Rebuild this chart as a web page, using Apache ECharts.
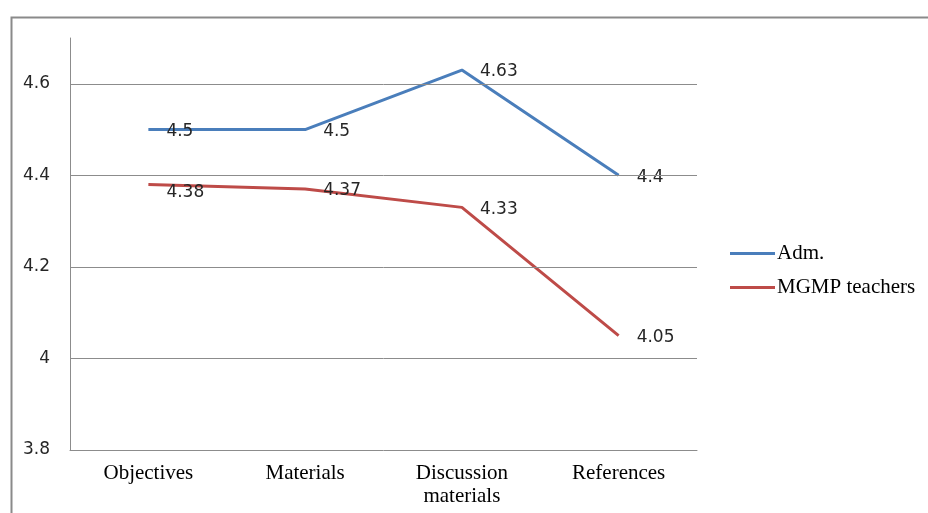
<!DOCTYPE html>
<html>
<head>
<meta charset="utf-8">
<script src="https://cdn.jsdelivr.net/npm/echarts@6/dist/echarts.min.js"></script>
<style>
  html, body { margin: 0; padding: 0; background: #fff; }
  #chart { width: 928px; height: 513px; }
</style>
</head>
<body>
<div id="chart"></div>
<script>
// Aspects of the lesson plan that were rated
const categories = ['Objectives', 'Materials', 'Discussion\nmaterials', 'References'];
// Mean scores per group
const admScores = [4.5, 4.5, 4.63, 4.4];
const teacherScores = [4.38, 4.37, 4.33, 4.05];
const seriesNames = ['Adm.', 'MGMP teachers'];
// Horizontal reference lines on the value axis
const gridValues = [4.0, 4.2, 4.4, 4.6];

const chart = echarts.init(document.getElementById('chart'));

const sans = 'DejaVu Sans';
const serif = 'Liberation Serif';

function labelData(values, liftFirst) {
  return values.map((v, i) => {
    if (liftFirst && i === 0) {
      return { value: v, label: { offset: [0, 8] } };
    }
    return v;
  });
}

const labelStyle = {
  show: true,
  position: 'right',
  distance: 18,
  offset: [0, 2],
  color: '#262626',
  fontFamily: sans,
  fontSize: 17
};

chart.setOption({
  animation: false,
  backgroundColor: '#fff',
  graphic: [{
    type: 'rect',
    left: 9,
    top: 15,
    shape: { width: 1000, height: 600 },
    style: { fill: 'none', stroke: '#8a8a8a', lineWidth: 2 },
    silent: true
  }],
  grid: { left: 70, right: 231, top: 38, bottom: 63 },
  legend: {
    orient: 'vertical',
    left: 725,
    top: 238,
    icon: 'rect',
    itemWidth: 45,
    itemHeight: 3,
    itemGap: 13,
    textStyle: { fontFamily: serif, fontSize: 21, color: '#000', padding: [0, 0, 0, -3] },
    data: seriesNames
  },
  xAxis: {
    type: 'category',
    data: categories,
    boundaryGap: true,
    axisTick: { show: false },
    axisLine: { lineStyle: { color: '#8c8c8c', width: 1 } },
    axisLabel: {
      margin: 12,
      fontFamily: serif,
      fontSize: 21,
      lineHeight: 23,
      color: '#000'
    }
  },
  yAxis: {
    type: 'value',
    min: 3.8,
    max: 4.7,
    interval: 0.2,
    axisLine: { show: true, lineStyle: { color: '#8c8c8c', width: 1 } },
    axisTick: { show: false },
    splitLine: { show: false },
    axisLabel: {
      margin: 20,
      fontFamily: sans,
      fontSize: 17,
      color: '#262626',
      formatter: v => (v > 4.65 ? '' : String(+v.toFixed(1)))
    }
  },
  series: [
    {
      name: seriesNames[0],
      type: 'line',
      data: labelData(admScores, false),
      symbol: 'circle',
      symbolSize: 0,
      showSymbol: true,
      lineStyle: { color: '#4a7ebb', width: 3 },
      itemStyle: { color: '#4a7ebb' },
      label: labelStyle,
      z: 3,
      markLine: {
        silent: true,
        symbol: 'none',
        label: { show: false },
        lineStyle: { color: '#8c8c8c', width: 1, type: 'solid' },
        data: gridValues.map(v => ({ yAxis: v }))
      }
    },
    {
      name: seriesNames[1],
      type: 'line',
      data: labelData(teacherScores, true),
      symbol: 'circle',
      symbolSize: 0,
      showSymbol: true,
      lineStyle: { color: '#be4b48', width: 3 },
      itemStyle: { color: '#be4b48' },
      label: labelStyle,
      z: 2
    }
  ]
});
</script>
</body>
</html>
